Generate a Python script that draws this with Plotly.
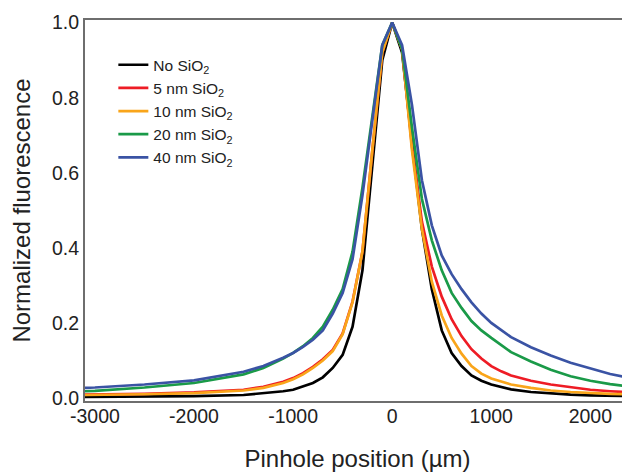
import plotly.graph_objects as go

# pinhole positions (um)
position = [-3100, -3000, -2500, -2000, -1500, -1300, -1100, -1000, -900, -800,
            -700, -600, -500, -400, -300, -200, -100, 0, 100, 200, 300, 400,
            500, 600, 700, 800, 900, 1000, 1100, 1200, 1400, 1600, 1800, 2000,
            2200, 2400]

no_sio2 = [0.003, 0.003, 0.004, 0.005, 0.008, 0.012, 0.018, 0.022, 0.030, 0.040,
           0.055, 0.080, 0.115, 0.190, 0.340, 0.620, 0.900, 1.0, 0.920, 0.680,
           0.450, 0.290, 0.180, 0.120, 0.085, 0.060, 0.046, 0.036, 0.029, 0.023,
           0.016, 0.012, 0.009, 0.007, 0.006, 0.005]
sio2_5nm = [0.009, 0.009, 0.011, 0.015, 0.022, 0.030, 0.043, 0.053, 0.066, 0.083,
            0.103, 0.128, 0.172, 0.257, 0.390, 0.660, 0.920, 1.0, 0.930, 0.670,
            0.470, 0.350, 0.270, 0.210, 0.165, 0.130, 0.105, 0.085, 0.071, 0.060,
            0.046, 0.036, 0.028, 0.022, 0.018, 0.015]
sio2_10nm = [0.008, 0.008, 0.010, 0.013, 0.020, 0.027, 0.040, 0.050, 0.063, 0.080,
             0.100, 0.125, 0.170, 0.255, 0.390, 0.660, 0.920, 1.0, 0.930, 0.660,
             0.450, 0.310, 0.220, 0.160, 0.118, 0.085, 0.065, 0.052, 0.043, 0.036,
             0.027, 0.020, 0.016, 0.013, 0.011, 0.010]
sio2_20nm = [0.018, 0.019, 0.028, 0.040, 0.063, 0.080, 0.105, 0.120, 0.138, 0.160,
             0.190, 0.235, 0.290, 0.390, 0.560, 0.750, 0.940, 1.0, 0.930, 0.720,
             0.530, 0.420, 0.340, 0.280, 0.240, 0.205, 0.180, 0.160, 0.140, 0.122,
             0.097, 0.075, 0.058, 0.046, 0.037, 0.030]
sio2_40nm = [0.027, 0.028, 0.036, 0.047, 0.070, 0.085, 0.107, 0.120, 0.136, 0.155,
             0.180, 0.225, 0.280, 0.370, 0.540, 0.740, 0.940, 1.0, 0.940, 0.780,
             0.580, 0.460, 0.380, 0.330, 0.290, 0.255, 0.225, 0.200, 0.180, 0.162,
             0.135, 0.113, 0.094, 0.078, 0.064, 0.053]

x_ticks = [-3000, -2000, -1000, 0, 1000, 2000]
x_tick_text = ["-3000", "-2000", "-1000", "0", "1000", "2000"]
y_ticks = [0, 0.2, 0.4, 0.6, 0.8, 1.0]

series = [
    ("No SiO<sub>2</sub>", no_sio2, "#000000"),
    ("5 nm SiO<sub>2</sub>", sio2_5nm, "#ee1c25"),
    ("10 nm SiO<sub>2</sub>", sio2_10nm, "#f9a51a"),
    ("20 nm SiO<sub>2</sub>", sio2_20nm, "#1a9a48"),
    ("40 nm SiO<sub>2</sub>", sio2_40nm, "#3a53a4"),
]

fig = go.Figure()
for name, vals, color in series:
    fig.add_trace(go.Scatter(x=position, y=vals, mode="lines", name=name,
                             line=dict(color=color, width=2.7)))

family = "Liberation Sans, Arial, sans-serif"
axis_font = dict(family=family, size=19.5, color="#222222")
title_font = dict(family=family, size=24, color="#222222")

# the page body adds an 8px offset, so the figure is sized to fit the window
fig.update_layout(
    width=622,
    height=464,
    margin=dict(l=77, r=0, t=12, b=71),
    paper_bgcolor="white",
    plot_bgcolor="white",
    showlegend=True,
    legend=dict(
        x=0.052, y=0.926, xanchor="left", yanchor="top",
        font=dict(family=family, size=15.5, color="#222222"),
        bgcolor="rgba(0,0,0,0)",
    ),
    xaxis=dict(
        range=[-3100, 2400],
        tickmode="array",
        tickvals=x_ticks,
        ticktext=x_tick_text,
        ticks="",
        ticklabelstandoff=-3,
        showgrid=False,
        zeroline=False,
        showline=True,
        mirror=True,
        linecolor="#6e6e6e",
        linewidth=2,
        tickfont=axis_font,
        automargin=False,
        title=dict(text="Pinhole position (µm)", font=title_font, standoff=26),
    ),
    yaxis=dict(
        range=[-0.008, 1.007],
        tickmode="array",
        tickvals=y_ticks,
        tickformat=".1f",
        ticks="",
        showgrid=False,
        zeroline=False,
        showline=True,
        linecolor="#6e6e6e",
        linewidth=2,
        tickfont=axis_font,
        automargin=False,
        title=dict(text="Normalized fluorescence", font=title_font, standoff=15),
    ),
)

fig.write_html("out.html")
